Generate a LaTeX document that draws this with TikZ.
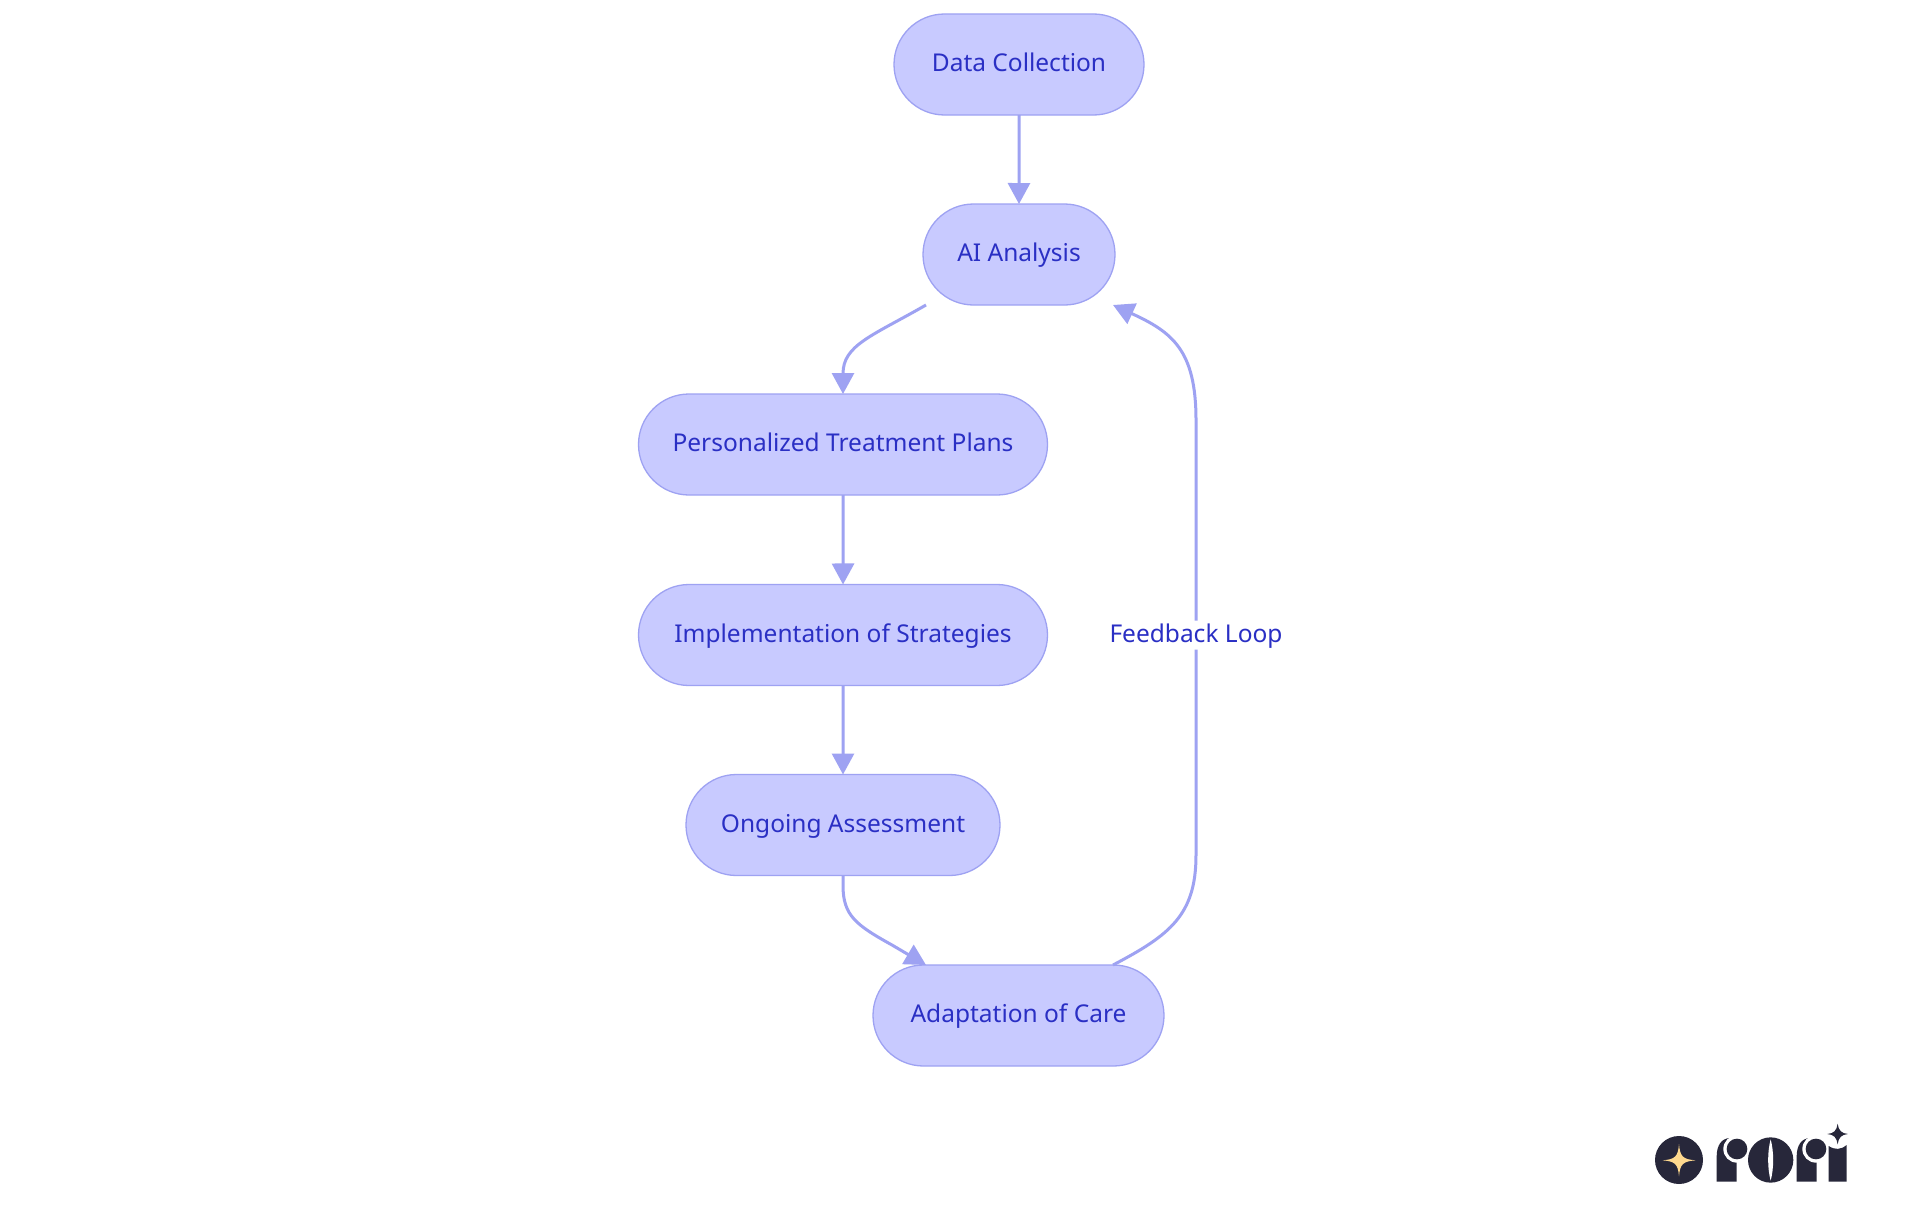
\documentclass[tikz,border=0pt]{standalone}
\usepackage{fontspec}
\setmainfont{Noto Sans}
\usetikzlibrary{shapes.misc,arrows.meta}
\definecolor{nodefill}{HTML}{C8CAFF}
\definecolor{linec}{HTML}{9EA2F2}
\definecolor{textc}{HTML}{2A2FC4}
\definecolor{logod}{HTML}{27273A}
\definecolor{logos}{HTML}{FFD98E}
\tikzset{
  flow/.style={rounded rectangle,draw=linec,fill=nodefill,line width=1.3pt,outer sep=0pt,text=textc,minimum height=101pt,inner sep=0pt,text height=19pt,text depth=5pt,font=\fontsize{24.5}{29}\selectfont},
  edge/.style={draw=linec,line width=3pt,-{Triangle[length=21pt,width=22pt]}},
  plainedge/.style={draw=linec,line width=3pt},
  edgelabel/.style={fill=white,text=textc,inner xsep=0pt,inner ysep=0pt,outer sep=0pt,text height=19pt,text depth=5pt,minimum height=29pt,font=\fontsize{24.5}{29}\selectfont}
}
\begin{document}
\begin{tikzpicture}[x=1pt,y=-1pt]
\useasboundingbox (0,0) rectangle (1920,1215);
\fill[white] (0,0) rectangle (1920,1215);
\node[flow,minimum width=250pt] (a) at (1019,64.5) {Data Collection};
\node[flow,minimum width=192pt] (b) at (1019,254.5) {AI Analysis};
\node[flow,minimum width=409pt] (c) at (843,444.5) {Personalized Treatment Plans};
\node[flow,minimum width=409pt] (d) at (843,635) {Implementation of Strategies};
\node[flow,minimum width=314pt] (e) at (843,825) {Ongoing Assessment};
\node[flow,minimum width=291pt] (f) at (1018.5,1015.5) {Adaptation of Care};
\draw[edge] (a) -- (b);
\draw[edge] ([xshift=-93pt]b.south) .. controls (872,336) and (843,345) .. (c.north);
\draw[edge] (c) -- (d);
\draw[edge] (d) -- (e);
\draw[edge] (e.south) -- ++(0,10) .. controls +(0,30) and (856,925) .. (892,945) -- ([xshift=-92.5pt]f.north);
\node[edgelabel] (lbl) at (1196,635) {Feedback Loop};
\draw[plainedge] ([xshift=94.5pt]f.north) .. controls (1170,935) and (1196,915) .. (1196,855) -- (lbl.south);
\draw[edge] (lbl.north) -- (1196,420) .. controls (1196,350) and (1172,332) .. ([xshift=94pt]b.south);
% logo
\begin{scope}[shift={(1640,1110)},x=.3333pt,y=-.3333pt]
\fill[logod] (117,150) circle (72);
\fill[logos] (68,151) .. controls (105,148) and (114,140) .. (117,102) .. controls (120,140) and (129,148) .. (167,151) .. controls (129,154) and (120,162) .. (117,199) .. controls (114,162) and (105,154) .. (68,151) -- cycle;
\fill[logod] (230,215) -- (230,140) .. controls (230,105) and (245,85) .. (270,84) -- (290,84) -- (290,215) -- cycle;
\fill[white] (291,117) circle (41);
\fill[logod] (291,117) circle (31);
\fill[logod] (392,150) circle (68);
\fill[white] (392,88) .. controls (382,125) and (382,175) .. (392,212) .. controls (402,175) and (402,125) .. (392,88) -- cycle;
\fill[logod] (470,215) -- (470,140) .. controls (470,105) and (485,85) .. (510,84) -- (530,84) -- (530,215) -- cycle;
\fill[white] (528,117) circle (41);
\fill[logod] (528,117) circle (31);
\fill[logod] (566,215) -- (566,108) .. controls (585,120) and (602,120) .. (620,105) -- (620,215) -- cycle;
\fill[logod] (562,72) .. controls (582,70) and (590,62) .. (593,41) .. controls (596,62) and (604,70) .. (624,72) .. controls (604,74) and (596,82) .. (593,103) .. controls (590,82) and (582,74) .. (562,72) -- cycle;
\end{scope}
\end{tikzpicture}
\end{document}
